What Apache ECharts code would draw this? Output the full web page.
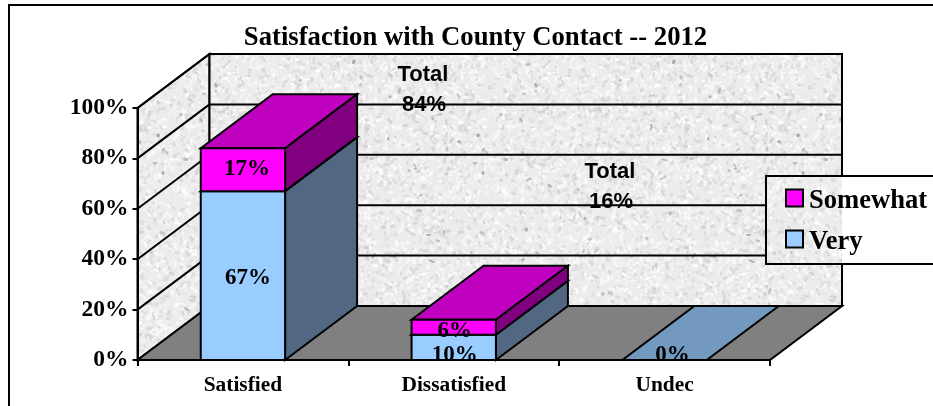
<!DOCTYPE html>
<html><head><meta charset="utf-8">
<style>html,body{margin:0;padding:0;background:#fff}#c{width:933px;height:406px}</style>
<script src="https://cdn.jsdelivr.net/npm/echarts@6/dist/echarts.min.js"></script>
</head><body><div id="c"></div>
<script>
const categories = ['Satisfied', 'Dissatisfied', 'Undec'];
const veryValues = [67, 10, 0];
const somewhatValues = [17, 6, 0];
const yTicks = [0, 20, 40, 60, 80, 100];
const totalLabels = ['84%', '16%'];
const seriesNames = ['Very', 'Somewhat'];
const chartTitle = 'Satisfaction with County Contact -- 2012';

const DX = 72, DY = 54;
const SERIF = '"Liberation Serif","Times New Roman",serif';
const SANS = '"Liberation Sans",Arial,sans-serif';
const LABEL_FONT = 'bold 23px ' + SERIF;
const veryColors = { front: '#99CCFF', top: '#7399BF', side: '#516782' };
const somewhatColors = { front: '#FF00FF', top: '#BF00BF', side: '#800080' };
// label nudges in pixels: [category][dx, dy]
const veryNudge = [[5, 2], [1, 8], [8, -5]];
const somewhatNudge = [[4, -1], [1, 4], [0, 0]];

// stone-like wall texture
function makeTexture() {
  const s = 320, cv = document.createElement('canvas');
  cv.width = s; cv.height = s;
  const g = cv.getContext('2d');
  g.fillStyle = '#ececec'; g.fillRect(0, 0, s, s);
  g.filter = 'blur(0.7px)';
  let seed = 12345;
  const r = () => (seed = (seed * 1103515245 + 12345) & 0x7fffffff) / 0x7fffffff;
  for (let i = 0; i < 9000; i++) {
    const k = r();
    const v = k < 0.42 ? 208 + r() * 18 : k < 0.44 ? 165 + r() * 25 : 246 + r() * 9;
    g.fillStyle = 'rgba(' + (v | 0) + ',' + (v | 0) + ',' + (v | 0) + ',' + (0.45 + r() * 0.4) + ')';
    g.save();
    g.translate(r() * s, r() * s);
    g.rotate(r() * 3.14);
    g.beginPath();
    g.ellipse(0, 0, 1 + r() * 2.6, 0.7 + r() * 1.1, 0, 0, 6.283);
    g.fill();
    g.restore();
  }
  return cv;
}
const texture = { image: makeTexture(), repeat: 'repeat' };
const LINE = { stroke: '#000', lineWidth: 2, lineJoin: 'miter' };

function poly(points, fill) {
  return { type: 'polygon', shape: { points }, style: Object.assign({ fill }, LINE) };
}
function line(x1, y1, x2, y2) {
  return { type: 'line', shape: { x1, y1, x2, y2 }, style: Object.assign({ fill: null }, LINE) };
}

function renderWalls(params, api) {
  const cs = params.coordSys;
  const p = api.coord([0, api.value(1)]);
  const y = p[1];
  const x0 = cs.x, x1 = cs.x + cs.width;
  const kids = [];
  if (params.dataIndex === 0) {
    const yTop = cs.y, yBot = cs.y + cs.height;
    kids.push(poly([[x0, yTop], [x0 + DX, yTop - DY], [x0 + DX, yBot - DY], [x0, yBot]], texture));
    kids.push(poly([[x0 + DX, yTop - DY], [x1 + DX, yTop - DY], [x1 + DX, yBot - DY], [x0 + DX, yBot - DY]], texture));
    kids.push(poly([[x0, yBot], [x1, yBot], [x1 + DX, yBot - DY], [x0 + DX, yBot - DY]], '#808080'));
  } else {
    kids.push(line(x0, y, x0 + DX, y - DY));
    kids.push(line(x0 + DX, y - DY, x1 + DX, y - DY));
  }
  return { type: 'group', children: kids };
}

function makeBarRenderer(baseValues, colors, nudge, showZero) {
  return function (params, api) {
    const i = api.value(0), v = api.value(1), base = baseValues[i];
    if (v === 0 && !showZero) return { type: 'group', children: [] };
    const band = api.size([1, 0])[0], w = band * 0.4;
    const a = api.coord([i, base]), b = api.coord([i, base + v]);
    const l = a[0] - w / 2, r = a[0] + w / 2, y0 = a[1], y1 = b[1];
    const kids = [];
    kids.push(poly([[l, y1], [r, y1], [r + DX, y1 - DY], [l + DX, y1 - DY]], colors.top));
    if (v > 0) {
      kids.push(poly([[r, y0], [r + DX, y0 - DY], [r + DX, y1 - DY], [r, y1]], colors.side));
      kids.push(poly([[l, y0], [r, y0], [r, y1], [l, y1]], colors.front));
    }
    kids.push({
      type: 'text', z2: 50,
      style: {
        x: a[0] + nudge[i][0], y: (y0 + y1) / 2 + nudge[i][1], text: v + '%',
        font: LABEL_FONT, fill: '#000', align: 'center', verticalAlign: 'middle'
      }
    });
    return { type: 'group', children: kids };
  };
}

const TOTAL_FONT = 'bold 22px ' + SANS;
const chart = echarts.init(document.getElementById('c'), null, { renderer: 'canvas' });
chart.setOption({
  animation: false,
  title: {
    text: chartTitle, left: 475.5, top: 25, textAlign: 'center',
    textStyle: { fontFamily: SERIF, fontWeight: 'bold', fontSize: 26.7, color: '#000' }, padding: 0
  },
  grid: { left: 137.5, right: 163, top: 108, bottom: 46 },
  legend: {
    data: [seriesNames[1], seriesNames[0]], orient: 'vertical', left: 785, top: 187.5, padding: 0,
    itemWidth: 17, itemHeight: 17, itemGap: 14, icon: 'rect', selectedMode: false, z: 20,
    itemStyle: { borderColor: '#000', borderWidth: 2 },
    formatter: '{t|{name}}',
    textStyle: { rich: { t: { fontFamily: SERIF, fontWeight: 'bold', fontSize: 26.6, color: '#000', padding: [6, 0, 0, 1] } } }
  },
  xAxis: {
    type: 'category', data: categories, z: 10,
    axisLine: { lineStyle: { color: '#000', width: 2 } },
    axisTick: { show: true, length: 6, lineStyle: { color: '#000', width: 2 } },
    axisLabel: { fontFamily: SERIF, fontWeight: 'bold', fontSize: 21.4, color: '#000', margin: 15 }
  },
  yAxis: {
    type: 'value', min: 0, max: 100, interval: 20, z: 10,
    axisLine: { show: true, lineStyle: { color: '#000', width: 2 } },
    axisTick: { show: true, length: 5, lineStyle: { color: '#000', width: 2 } },
    splitLine: { show: false },
    axisLabel: { formatter: '{value}%', fontFamily: SERIF, fontWeight: 'bold', fontSize: 23.5, color: '#000', margin: 9 }
  },
  graphic: [
    { type: 'rect', z: 0, shape: { x: 9, y: 5, width: 1200, height: 800 }, style: { fill: '#fff', stroke: '#000', lineWidth: 2 }, silent: true },
    { type: 'rect', z: 15, shape: { x: 766, y: 176, width: 400, height: 88 }, style: { fill: '#fff', stroke: '#000', lineWidth: 2 }, silent: true },
    { type: 'rect', z: 16, shape: { x: 767, y: 177, width: 75, height: 86 }, style: { fill: texture }, silent: true },
    { type: 'text', z: 12, x: 423, y: 75, style: { text: 'Total', font: TOTAL_FONT, fill: '#000', align: 'center', verticalAlign: 'middle' } },
    { type: 'text', z: 12, x: 424, y: 105, style: { text: totalLabels[0], font: TOTAL_FONT, fill: '#000', align: 'center', verticalAlign: 'middle' } },
    { type: 'text', z: 12, x: 610, y: 172, style: { text: 'Total', font: TOTAL_FONT, fill: '#000', align: 'center', verticalAlign: 'middle' } },
    { type: 'text', z: 12, x: 611, y: 202, style: { text: totalLabels[1], font: TOTAL_FONT, fill: '#000', align: 'center', verticalAlign: 'middle' } }
  ],
  series: [
    { name: 'walls', type: 'custom', z: 1, clip: false, silent: true, renderItem: renderWalls,
      data: yTicks.map(t => [0, t]), encode: { x: 0, y: 1 } },
    { name: seriesNames[0], type: 'custom', z: 3, clip: false, silent: true,
      itemStyle: { color: veryColors.front, borderColor: '#000', borderWidth: 2 },
      renderItem: makeBarRenderer([0, 0, 0], veryColors, veryNudge, true),
      data: veryValues.map((v, i) => [i, v]), encode: { x: 0, y: 1 } },
    { name: seriesNames[1], type: 'custom', z: 4, clip: false, silent: true,
      itemStyle: { color: somewhatColors.front, borderColor: '#000', borderWidth: 2 },
      renderItem: makeBarRenderer(veryValues, somewhatColors, somewhatNudge, false),
      data: somewhatValues.map((v, i) => [i, v]), encode: { x: 0, y: 1 } }
  ]
});
</script></body></html>
